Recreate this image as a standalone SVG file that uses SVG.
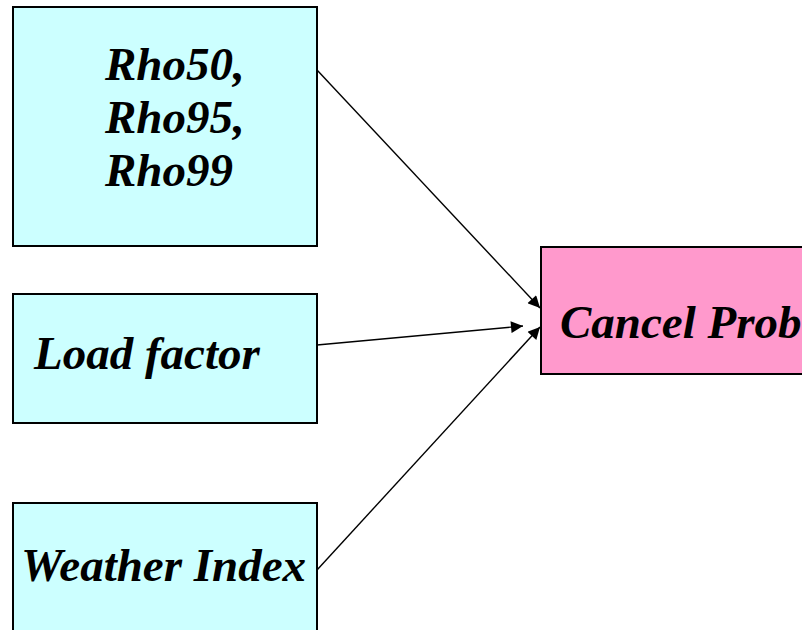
<svg xmlns="http://www.w3.org/2000/svg" width="802" height="630" viewBox="0 0 802 630">
<defs>
<marker id="arr" viewBox="0 0 10 10" refX="10" refY="5" markerWidth="14" markerHeight="12" markerUnits="userSpaceOnUse" orient="auto">
<path d="M0,0 L10,5 L0,10 z" fill="#000"/>
</marker>
<style>
.in{fill:#ccffff;stroke:#000;stroke-width:2}
.out{fill:#ff99cc;stroke:#000;stroke-width:2}
.t{font-family:"Liberation Serif","Times New Roman",serif;font-weight:bold;font-style:italic;font-size:47px;fill:#000}
.c{stroke:#000;stroke-width:1.4;fill:none;marker-end:url(#arr)}
</style>
</defs>
<rect width="802" height="630" fill="#fff"/>
<g id="connectors">
<line class="c" x1="317" y1="70" x2="540" y2="308"/>
<line class="c" x1="317" y1="345" x2="523" y2="326"/>
<line class="c" x1="317" y1="570" x2="540" y2="327"/>
</g>
<g id="rho">
<rect class="in" x="13" y="7" width="304" height="239"/>
<text class="t" x="105" y="80">Rho50,</text>
<text class="t" x="105" y="133">Rho95,</text>
<text class="t" x="105" y="186">Rho99</text>
</g>
<g id="load">
<rect class="in" x="13" y="294" width="304" height="129"/>
<text class="t" x="34" y="369">Load factor</text>
</g>
<g id="weather">
<rect class="in" x="13" y="503" width="304" height="140"/>
<text class="t" x="21" y="581">Weather Index</text>
</g>
<g id="cancel">
<rect class="out" x="541" y="247" width="280" height="127"/>
<text class="t" x="560" y="338">Cancel Prob</text>
</g>
</svg>
